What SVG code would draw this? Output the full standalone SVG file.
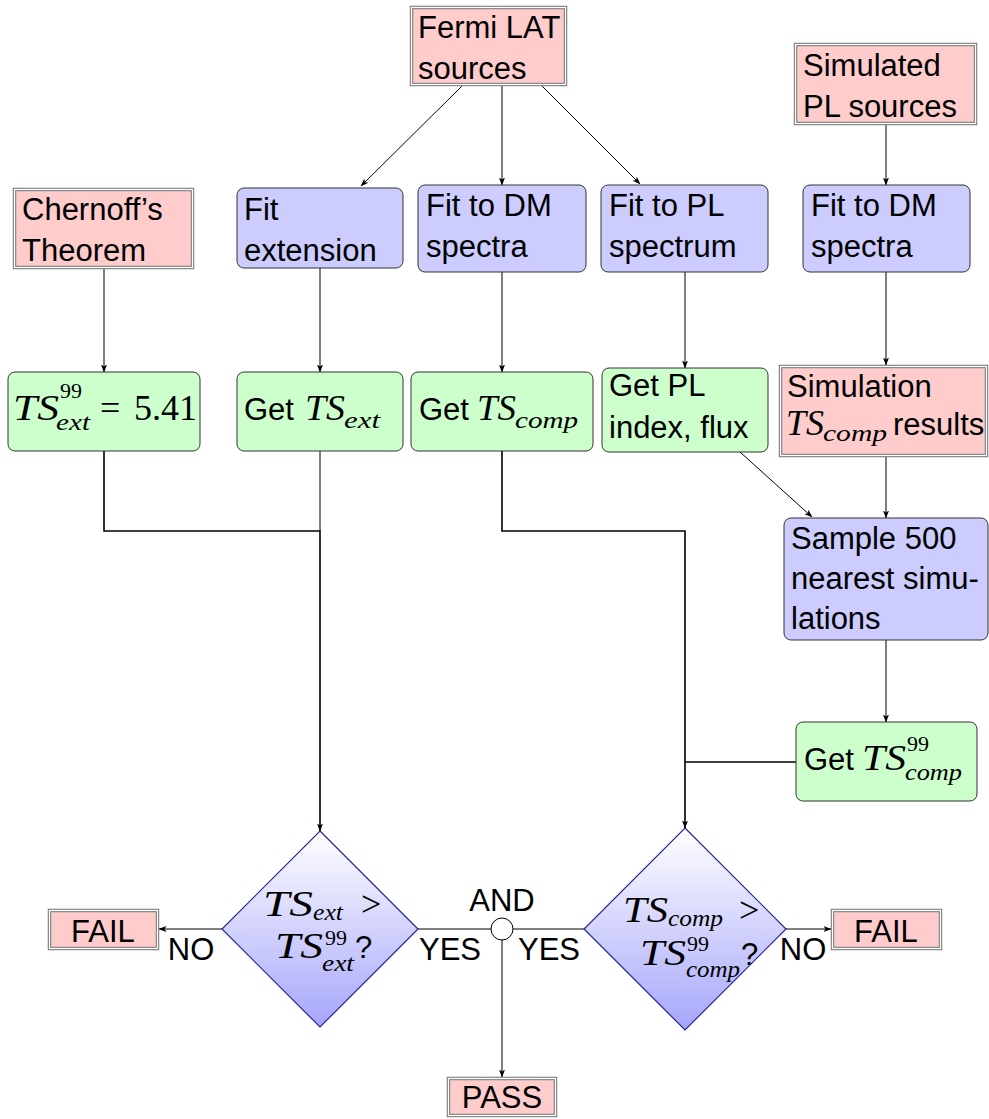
<svg xmlns="http://www.w3.org/2000/svg" width="989" height="1119" viewBox="0 0 989 1119">
<defs>
<linearGradient id="dg" x1="0" y1="0" x2="0" y2="1"><stop offset="0" stop-color="#ffffff"/><stop offset="1" stop-color="#a6a6fb"/></linearGradient>
<marker id="ah" markerWidth="8" markerHeight="6" refX="7.5" refY="3" orient="auto" markerUnits="userSpaceOnUse"><path d="M0,0 L8,3 L0,6 L2,3 z" fill="#000"/></marker>
</defs>
<style>
.t{font-family:"Liberation Sans",Arial,sans-serif;font-size:31px;fill:#000}
.m{font-family:"Liberation Serif","Times New Roman",serif;font-style:italic;font-size:36px;fill:#000}
.ms{font-family:"Liberation Serif","Times New Roman",serif;font-style:italic;font-size:24px;fill:#000}
.n{font-family:"Liberation Serif","Times New Roman",serif;font-size:36px;fill:#000}
.ns{font-family:"Liberation Serif","Times New Roman",serif;font-size:22px;fill:#000}
.pk{fill:#ffcccc;stroke:#808080;stroke-width:3.5}
.pki{fill:none;stroke:#ffffff;stroke-width:1.2}
.bl{fill:#ccccff;stroke:#333;stroke-width:1}
.gr{fill:#ccffcc;stroke:#333;stroke-width:1}
.dm{fill:url(#dg);stroke:#22229a;stroke-width:1.2}
.c{fill:none;stroke:#000;stroke-width:1}
.c2{fill:none;stroke:#000;stroke-width:1.6}
.a{marker-end:url(#ah)}
</style>

<g id="connectors">
<path class="c a" d="M462,86 L361,186"/>
<path class="c a" d="M502,86 V185"/>
<path class="c a" d="M542,86 L640,184"/>
<path class="c a" d="M886,125 V185"/>
<path class="c a" d="M104,269 V372"/>
<path class="c a" d="M320,268 V372"/>
<path class="c a" d="M502,272 V372"/>
<path class="c a" d="M685,272 V368"/>
<path class="c a" d="M886,272 V365"/>
<path class="c a" d="M886,457 V518"/>
<path class="c a" d="M740,452 L812,517"/>
<path class="c a" d="M886,640 V722"/>
<path class="c" d="M320,451 V531"/>
<path class="c2 a" d="M104,451 V531 H320 V831"/>
<path class="c2 a" d="M502,451 V531 H685 V828"/>
<path class="c2" d="M796,762 H685"/>
<path class="c a" d="M222,929 H159"/>
<path class="c" d="M418,929 H491"/>
<path class="c" d="M584,929 H513"/>
<path class="c a" d="M786,929 H831"/>
<path class="c a" d="M502,940 V1077"/>
</g>

<g id="fermi">
<rect class="pk" x="411.5" y="7.5" width="154" height="77"/><rect class="pki" x="411.5" y="7.5" width="154" height="77"/>
<text class="t" x="418" y="38">Fermi LAT</text><text class="t" x="418" y="79">sources</text>
</g>
<g id="simulated">
<rect class="pk" x="795.5" y="44.5" width="180" height="79"/><rect class="pki" x="795.5" y="44.5" width="180" height="79"/>
<text class="t" x="803" y="76">Simulated</text><text class="t" x="803" y="117">PL sources</text>
</g>
<g id="chernoff">
<rect class="pk" x="14.5" y="189.5" width="178" height="78"/><rect class="pki" x="14.5" y="189.5" width="178" height="78"/>
<text class="t" x="22" y="220">Chernoff’s</text><text class="t" x="22" y="261">Theorem</text>
</g>
<g id="fitext">
<rect class="bl" x="237" y="188" width="166" height="80" rx="7"/>
<text class="t" x="244" y="220">Fit</text><text class="t" x="244" y="261">extension</text>
</g>
<g id="fitdm">
<rect class="bl" x="418" y="185" width="168" height="87" rx="7"/>
<text class="t" x="426" y="216">Fit to DM</text><text class="t" x="426" y="257">spectra</text>
</g>
<g id="fitpl">
<rect class="bl" x="601" y="185" width="167" height="87" rx="7"/>
<text class="t" x="609" y="216">Fit to PL</text><text class="t" x="609" y="257">spectrum</text>
</g>
<g id="fitdm2">
<rect class="bl" x="803" y="185" width="167" height="87" rx="7"/>
<text class="t" x="811" y="216">Fit to DM</text><text class="t" x="811" y="257">spectra</text>
</g>
<g id="ts99ext">
<rect class="gr" x="8" y="372" width="192" height="79" rx="7"/>
<text class="m" x="13" y="420" textLength="46" lengthAdjust="spacingAndGlyphs">TS</text>
<text class="ns" x="60" y="398">99</text>
<text class="ms" x="56" y="430" textLength="34" lengthAdjust="spacingAndGlyphs">ext</text>
<text class="n" x="100" y="420">=</text>
<text class="n" x="134" y="420">5.41</text>
</g>
<g id="gettsext">
<rect class="gr" x="237" y="372" width="166" height="79" rx="7"/>
<text class="t" x="244" y="420">Get</text>
<text class="m" x="305" y="420" textLength="40" lengthAdjust="spacingAndGlyphs">TS</text>
<text class="ms" x="344" y="428" textLength="36" lengthAdjust="spacingAndGlyphs">ext</text>
</g>
<g id="gettscomp">
<rect class="gr" x="411" y="372" width="182" height="79" rx="7"/>
<text class="t" x="419" y="420">Get</text>
<text class="m" x="477" y="420" textLength="39" lengthAdjust="spacingAndGlyphs">TS</text>
<text class="ms" x="515" y="428" textLength="63" lengthAdjust="spacingAndGlyphs">comp</text>
</g>
<g id="getpl">
<rect class="gr" x="602" y="368" width="166" height="84" rx="7"/>
<text class="t" x="609" y="396">Get PL</text><text class="t" x="609" y="438">index, flux</text>
</g>
<g id="simres">
<rect class="pk" x="780.5" y="366.5" width="206" height="89"/><rect class="pki" x="780.5" y="366.5" width="206" height="89"/>
<text class="t" x="787" y="397">Simulation</text>
<text class="m" x="786" y="435" textLength="38" lengthAdjust="spacingAndGlyphs">TS</text>
<text class="ms" x="823" y="441" textLength="64" lengthAdjust="spacingAndGlyphs">comp</text>
<text class="t" x="893" y="435">results</text>
</g>
<g id="sample">
<rect class="bl" x="784" y="518" width="204" height="122" rx="7"/>
<text class="t" x="791" y="549">Sample 500</text><text class="t" x="791" y="589">nearest simu-</text><text class="t" x="791" y="629">lations</text>
</g>
<g id="getts99comp">
<rect class="gr" x="796" y="722" width="181" height="79" rx="7"/>
<text class="t" x="804" y="770">Get</text>
<text class="m" x="862" y="770" textLength="44" lengthAdjust="spacingAndGlyphs">TS</text>
<text class="ns" x="907" y="751">99</text>
<text class="ms" x="905" y="780" textLength="57" lengthAdjust="spacingAndGlyphs">comp</text>
</g>
<g id="decext">
<path class="dm" d="M320,831 L418,929 L320,1027 L222,929 Z"/>
<text class="m" x="263" y="916" textLength="50" lengthAdjust="spacingAndGlyphs">TS</text>
<text class="ms" x="313" y="920" font-size="23" textLength="30" lengthAdjust="spacingAndGlyphs">ext</text>
<text class="n" x="361" y="916">&gt;</text>
<text class="m" x="275" y="958" textLength="48" lengthAdjust="spacingAndGlyphs">TS</text>
<text class="ns" x="325" y="945" font-size="20">99</text>
<text class="ms" x="322" y="971" font-size="23" textLength="32" lengthAdjust="spacingAndGlyphs">ext</text>
<text class="t" x="355" y="958">?</text>
</g>
<g id="deccomp">
<path class="dm" d="M685,828 L786,929 L685,1030 L584,929 Z"/>
<text class="m" x="623" y="922" textLength="45" lengthAdjust="spacingAndGlyphs">TS</text>
<text class="ms" x="668" y="926" font-size="23" textLength="55" lengthAdjust="spacingAndGlyphs">comp</text>
<text class="n" x="739" y="922">&gt;</text>
<text class="m" x="640" y="965" textLength="46" lengthAdjust="spacingAndGlyphs">TS</text>
<text class="ns" x="687" y="951" font-size="20">99</text>
<text class="ms" x="686" y="977" textLength="54" lengthAdjust="spacingAndGlyphs">comp</text>
<text class="t" x="741" y="965">?</text>
</g>
<g id="and">
<circle cx="502" cy="929" r="11" fill="#fff" stroke="#000" stroke-width="1"/>
<text class="t" x="502" y="911" text-anchor="middle">AND</text>
</g>
<g id="labels">
<text class="t" x="450" y="960" text-anchor="middle">YES</text>
<text class="t" x="549" y="960" text-anchor="middle">YES</text>
<text class="t" x="191" y="960" text-anchor="middle">NO</text>
<text class="t" x="803" y="960" text-anchor="middle">NO</text>
</g>
<g id="fail1">
<rect class="pk" x="49.5" y="910.5" width="108" height="38"/><rect class="pki" x="49.5" y="910.5" width="108" height="38"/>
<text class="t" x="103" y="942" text-anchor="middle">FAIL</text>
</g>
<g id="fail2">
<rect class="pk" x="832.5" y="910.5" width="108" height="38"/><rect class="pki" x="832.5" y="910.5" width="108" height="38"/>
<text class="t" x="886" y="942" text-anchor="middle">FAIL</text>
</g>
<g id="pass">
<rect class="pk" x="448.5" y="1078.5" width="107" height="37"/><rect class="pki" x="448.5" y="1078.5" width="107" height="37"/>
<text class="t" x="502" y="1108" text-anchor="middle">PASS</text>
</g>
</svg>
